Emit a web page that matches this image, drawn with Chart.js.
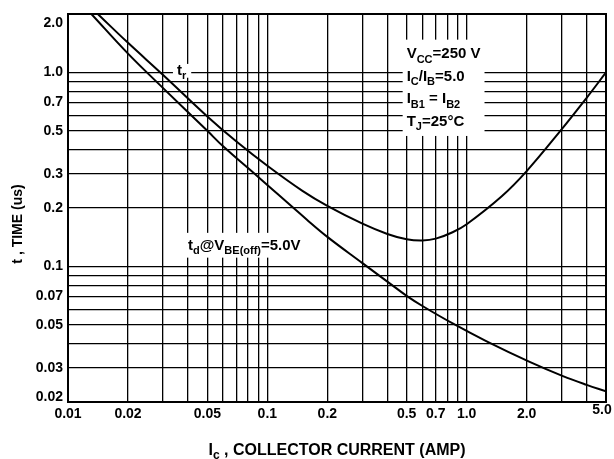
<!DOCTYPE html>
<html>
<head>
<meta charset="utf-8">
<script src="https://cdn.jsdelivr.net/npm/chart.js@4.4.0/dist/chart.umd.min.js"></script>
<style>
  html, body { margin: 0; padding: 0; background: #fff; }
</style>
</head>
<body>
<canvas id="timeChart" width="614" height="459"></canvas>
<script>
// Values (log-log)

// t_r, rise time
const riseCurrent = [0.0141, 0.02, 0.03, 0.05, 0.07, 0.1, 0.15, 0.2, 0.3, 0.4, 0.5, 0.6, 0.7, 0.85, 1.0, 1.5, 2.0, 3.0, 4.0, 5.0];
const riseTime = [2.0, 1.42, 0.97, 0.593, 0.44, 0.33, 0.245, 0.205, 0.166, 0.147, 0.138, 0.136, 0.139, 0.15, 0.165, 0.23, 0.31, 0.51, 0.74, 1.0];

// t_d, delay time
const delayCurrent = [0.0131, 0.02, 0.03, 0.05, 0.06, 0.09, 0.158, 0.2, 0.3, 0.4, 0.5, 0.6, 0.86, 1.26, 2.07, 3.04, 4.0, 5.0];
const delayTime = [2.0, 1.25, 0.83, 0.5, 0.416, 0.289, 0.174, 0.142, 0.104, 0.0835, 0.0705, 0.0625, 0.0505, 0.0411, 0.0322, 0.0272, 0.0245, 0.0227];

// tick labels
const xTickValues = [0.01, 0.02, 0.05, 0.1, 0.2, 0.5, 0.7, 1, 2, 5];
const xTickLabels = ['0.01', '0.02', '0.05', '0.1', '0.2', '0.5', '0.7', '1.0', '2.0', '5.0'];
const yTickValues = [2, 1, 0.7, 0.5, 0.3, 0.2, 0.1, 0.07, 0.05, 0.03, 0.02];
const yTickLabels = ['2.0', '1.0', '0.7', '0.5', '0.3', '0.2', '0.1', '0.07', '0.05', '0.03', '0.02'];

const FONT = '"Liberation Sans", Arial, sans-serif';

// text notes on the plot, each part is [text, 'sub' | 'sup' | '']
const notes = [
  { x: 0.0352, y: 0.973, size: 15, lead: 23, pad: [0, 5, 3, 4],
    lines: [[['t', ''], ['r', 'sub']]] },
  { x: 0.5, y: 1.18, size: 15, lead: 22.5, pad: [8, 4, 10, 4],
    lines: [
      [['V', ''], ['CC', 'sub'], ['=250 V', '']],
      [['I', ''], ['C', 'sub'], ['/I', ''], ['B', 'sub'], ['=5.0', '']],
      [['I', ''], ['B1', 'sub'], [' = I', ''], ['B2', 'sub']],
      [['T', ''], ['J', 'sub'], ['=25°C', '']]
    ] },
  { x: 0.04, y: 0.122, size: 15, lead: 20, pad: [6, 3, 8, 4],
    lines: [[['t', ''], ['d', 'sub'], ['@V', ''], ['BE(off)', 'sub'], ['=5.0V', '']]] }
];

function partFont(kind, size) {
  let fs = kind ? Math.round(size * 0.72) : size;
  return 'bold ' + fs + 'px ' + FONT;
}

function measureRich(ctx, parts, size) {
  let w = 0;
  parts.forEach(function(p) {
    ctx.font = partFont(p[1], size);
    w += ctx.measureText(p[0]).width;
  });
  return w;
}

function drawRich(ctx, parts, x, y, size) {
  let cx = x;
  parts.forEach(function(p) {
    ctx.font = partFont(p[1], size);
    let dy = 0;
    if (p[1] === 'sub') dy = size * 0.28;
    if (p[1] === 'sup') dy = -size * 0.42;
    ctx.fillText(p[0], cx, y + dy);
    cx += ctx.measureText(p[0]).width;
  });
}

// grid only at 1..9 x 10^n
function onGrid(value) {
  const m = value / Math.pow(10, Math.floor(Math.log10(value) + 1e-9));
  return Math.abs(m - Math.round(m)) < 1e-6;
}

function keepGridTicks(scale) {
  scale.ticks = scale.ticks.filter((t) => onGrid(t.value));
}

function toPoints(xs, ys) {
  return xs.map((x, i) => ({ x: x, y: ys[i] }));
}

const notesPlugin = {
  id: 'notes',
  beforeDatasetsDraw(chart) {
    const ctx = chart.ctx;
    const xs = chart.scales.x;
    const ys = chart.scales.y;
    ctx.save();
    ctx.textBaseline = 'alphabetic';
    ctx.textAlign = 'left';
    notes.forEach(function(note) {
      const x0 = xs.getPixelForValue(note.x);
      const y0 = ys.getPixelForValue(note.y);
      let w = 0;
      note.lines.forEach(function(l) { w = Math.max(w, measureRich(ctx, l, note.size)); });
      const cap = note.size * 0.72;
      const h = (note.lines.length - 1) * note.lead + cap;
      ctx.fillStyle = '#fff';
      ctx.fillRect(x0 - note.pad[3], y0 - cap - note.pad[0],
        w + note.pad[1] + note.pad[3], h + note.pad[0] + note.pad[2]);
      ctx.fillStyle = '#000';
      note.lines.forEach(function(l, i) { drawRich(ctx, l, x0, y0 + i * note.lead, note.size); });
    });
    ctx.restore();
  },
  afterDraw(chart) {
    const ctx = chart.ctx;
    const a = chart.chartArea;
    const xs = chart.scales.x;
    const ys = chart.scales.y;
    ctx.save();
    // plot frame
    ctx.strokeStyle = '#000';
    ctx.lineWidth = 2;
    ctx.strokeRect(a.left, a.top, a.right - a.left, a.bottom - a.top);

    ctx.fillStyle = '#000';
    ctx.font = 'bold 14px ' + FONT;
    // tick labels, kept inside the frame at the ends like the print
    ctx.textBaseline = 'middle';
    ctx.textAlign = 'right';
    yTickValues.forEach(function(v, i) {
      const py = Math.min(Math.max(ys.getPixelForValue(v), a.top + 9), a.bottom - 5);
      ctx.fillText(yTickLabels[i], a.left - 5, py);
    });
    ctx.textAlign = 'center';
    xTickValues.forEach(function(v, i) {
      const px = Math.min(xs.getPixelForValue(v), a.right - 4);
      const py = px < a.right - 10 ? a.bottom + 12 : a.bottom + 8;
      ctx.fillText(xTickLabels[i], px, py);
    });

    ctx.textAlign = 'left';
    ctx.textBaseline = 'alphabetic';
    // x title
    const xTitle = [['I', ''], ['c', 'sub'], [' , COLLECTOR CURRENT (AMP)', '']];
    const xw = measureRich(ctx, xTitle, 16);
    drawRich(ctx, xTitle, (a.left + a.right) / 2 - xw / 2, 455, 16);
    // y title
    const yTitle = [['t , TIME (us)', '']];
    const yw = measureRich(ctx, yTitle, 14);
    ctx.translate(22, (a.top + a.bottom) / 2 + 16);
    ctx.rotate(-Math.PI / 2);
    drawRich(ctx, yTitle, -yw / 2, 0, 14);
    ctx.restore();
  }
};

const ctx = document.getElementById('timeChart').getContext('2d');

const lineStyle = {
  borderColor: '#000',
  borderWidth: 2,
  pointRadius: 0,
  showLine: true,
  fill: false,
  tension: 0.4
};

const timeChart = new Chart(ctx, {
  type: 'scatter',
  data: {
    datasets: [
      Object.assign({ label: 't_r', data: toPoints(riseCurrent, riseTime) }, lineStyle),
      Object.assign({ label: 't_d', data: toPoints(delayCurrent, delayTime) }, lineStyle)
    ]
  },
  options: {
    responsive: false,
    animation: false,
    layout: { padding: { top: 14, right: 8, left: 0, bottom: 0 } },
    plugins: {
      legend: { display: false },
      tooltip: { enabled: false }
    },
    scales: {
      x: {
        type: 'logarithmic',
        min: 0.01,
        max: 5,
        grid: { color: '#000', lineWidth: 1.3, drawTicks: false },
        border: { display: false },
        ticks: { display: false, autoSkip: false },
        afterBuildTicks: keepGridTicks,
        afterFit: function(scale) {
          scale.height = 57;
          scale.paddingLeft = 0;
          scale.paddingRight = 0;
        }
      },
      y: {
        type: 'logarithmic',
        min: 0.02,
        max: 2,
        grid: { color: '#000', lineWidth: 1.3, drawTicks: false },
        border: { display: false },
        ticks: { display: false, autoSkip: false },
        afterBuildTicks: keepGridTicks,
        afterFit: function(scale) {
          scale.width = 68;
          scale.paddingTop = 0;
          scale.paddingBottom = 0;
        }
      }
    }
  },
  plugins: [notesPlugin]
});
</script>
</body>
</html>
